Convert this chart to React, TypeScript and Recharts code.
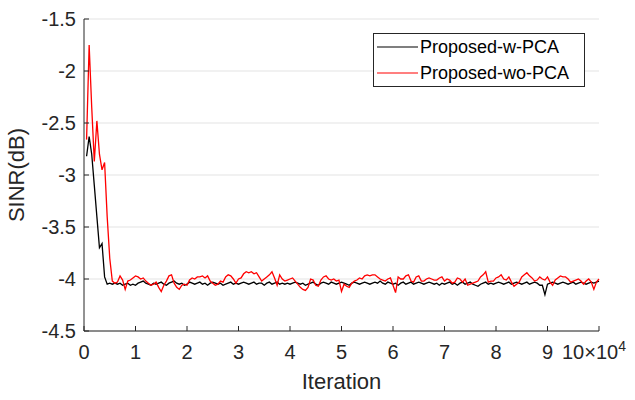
import React from 'react';
import { LineChart, Line, XAxis, YAxis, CartesianGrid, Legend } from 'recharts';

const iterations: number[] = Array.from({ length: 200 }, (_, i) => (i + 1) * 500);

const withPCA: number[] = [
  -2.82, -2.63, -2.8, -3.1, -3.4, -3.7, -3.66, -3.98, -4.05, -4.04,
  -4.05, -4.04, -4.05, -4.04, -4.06, -4.05, -4.04, -4.06, -4.05, -4.06,
  -4.04, -4.03, -4.02, -4.04, -4.05, -4.06, -4.04, -4.05, -4.04, -4.03,
  -4.05, -4.06, -4.04, -4.03, -4.02, -4.04, -4.05, -4.04, -4.06, -4.05,
  -4.03, -4.04, -4.05, -4.04, -4.03, -4.05, -4.04, -4.06, -4.04, -4.03,
  -4.04, -4.05, -4.04, -4.06, -4.05, -4.04, -4.03, -4.05, -4.04, -4.05,
  -4.04, -4.03, -4.04, -4.05, -4.04, -4.03, -4.05, -4.04, -4.04, -4.06,
  -4.04, -4.03, -4.05, -4.04, -4.03, -4.05, -4.04, -4.05, -4.04, -4.05,
  -4.04, -4.03, -4.04, -4.05, -4.04, -4.06, -4.05, -4.04, -4.03, -4.05,
  -4.06, -4.04, -4.03, -4.04, -4.05, -4.03, -4.04, -4.05, -4.04, -4.03,
  -4.04, -4.05, -4.06, -4.04, -4.03, -4.04, -4.05, -4.04, -4.03, -4.04,
  -4.05, -4.04, -4.03, -4.04, -4.02, -4.04, -4.05, -4.03, -4.04, -4.05,
  -4.04, -4.06, -4.04, -4.03, -4.05, -4.04, -4.03, -4.05, -4.04, -4.03,
  -4.04, -4.05, -4.04, -4.03, -4.04, -4.05, -4.04, -4.06, -4.04, -4.05,
  -4.04, -4.03, -4.05, -4.04, -4.06, -4.04, -4.03, -4.05, -4.04, -4.03,
  -4.05, -4.06, -4.07, -4.05, -4.04, -4.03, -4.05, -4.04, -4.05, -4.04,
  -4.03, -4.04, -4.05, -4.04, -4.03, -4.05, -4.04, -4.03, -4.04, -4.05,
  -4.04, -4.03, -4.05, -4.04, -4.03, -4.04, -4.06, -4.06, -4.15, -4.05,
  -4.04, -4.03, -4.04, -4.05, -4.04, -4.03, -4.04, -4.05, -4.04, -4.03,
  -4.05, -4.04, -4.03, -4.04, -4.05, -4.04, -4.03, -4.04, -4.03, -4.02,
];

const withoutPCA: number[] = [
  -2.66, -1.75, -2.35, -2.87, -2.48, -2.8, -2.95, -2.88, -3.4, -3.8,
  -4.02, -4.04, -4.03, -3.97, -4.01, -4.1, -4.02, -4.01, -3.99, -3.97,
  -3.98, -4.0, -3.99, -4.02, -4.04, -4.06, -4.05, -4.03, -4.08, -4.12,
  -4.06, -4.02, -3.97, -3.96, -4.04, -4.08, -4.1, -4.06, -4.05, -4.06,
  -4.01, -3.99, -4.0, -3.98, -3.98, -3.97, -3.99, -3.97, -4.02, -4.04,
  -4.06, -4.05, -4.02, -4.03, -3.98, -3.96, -3.97, -4.0, -4.04, -4.0,
  -3.99, -3.95, -3.93, -3.94, -3.93, -3.95, -3.94, -3.98, -4.02, -4.0,
  -3.98, -3.96, -3.93, -3.99, -4.06, -3.96, -4.0, -4.02, -4.01, -4.0,
  -3.99, -4.02, -4.05, -4.08, -4.1, -4.11, -4.08, -4.0, -4.01, -4.06,
  -4.07, -4.01, -3.98, -3.97, -4.0, -4.01, -4.0, -4.02, -4.01, -4.12,
  -4.05, -4.07, -4.08, -4.04, -4.02, -4.01, -3.99, -4.0, -3.97, -3.96,
  -3.97, -3.96, -3.96, -3.98, -4.0, -4.01, -4.02, -4.0, -3.99, -4.06,
  -4.13, -3.98, -4.0, -4.0, -3.97, -3.96, -4.02, -4.03, -3.98, -3.97,
  -4.02, -4.02, -4.0, -3.99, -4.0, -4.01, -4.01, -3.99, -3.98, -4.02,
  -4.0, -4.01, -4.04, -4.03, -3.99, -4.0, -4.03, -4.0, -4.06, -4.05,
  -4.04, -4.03, -4.02, -3.98, -3.96, -3.93, -4.03, -4.02, -4.02, -3.99,
  -3.98, -3.96, -4.0, -4.01, -3.98, -4.03, -4.07, -4.05, -4.03, -3.98,
  -3.96, -3.94, -3.97, -3.99, -4.02, -4.01, -3.98, -4.0, -4.01, -3.98,
  -4.03, -4.06, -4.01, -3.99, -3.97, -3.98, -3.98, -4.0, -4.03, -4.02,
  -4.01, -4.0, -4.02, -4.05, -4.02, -4.0, -4.03, -4.1, -4.03, -4.0,
];

const xTicks: number[] = [0, 10000, 20000, 30000, 40000, 50000, 60000, 70000, 80000, 90000, 100000];
const yTicks: number[] = [-4.5, -4, -3.5, -3, -2.5, -2, -1.5];
const seriesNames: string[] = ['Proposed-w-PCA', 'Proposed-wo-PCA'];
const seriesColors: string[] = ['#000000', '#ff0000'];

const data = iterations.map((it, i) => ({ it, w: withPCA[i], wo: withoutPCA[i] }));

const AXIS = '#262626';
const FONT = '"Liberation Sans", Arial, Helvetica, sans-serif';
const TICK_FS = 20;
const TICK_LEN = 5;

const BottomTick = (props: any) => {
  const { x, y, payload } = props;
  const v = payload.value as number;
  const axisY = y - 14;
  const line = <line x1={x} x2={x} y1={axisY} y2={axisY - TICK_LEN} stroke={AXIS} strokeWidth={1} />;
  if (v === 100000) {
    return (
      <g>
        {line}
        <text x={x - 37} y={y} dy="0.71em" textAnchor="start" fill={AXIS} fontSize={TICK_FS} fontFamily={FONT}>
          10×10<tspan dy={-8} fontSize={14}>4</tspan>
        </text>
      </g>
    );
  }
  return (
    <g>
      {line}
      <text x={x} y={y} dy="0.71em" textAnchor="middle" fill={AXIS} fontSize={TICK_FS} fontFamily={FONT}>
        {String(v / 10000)}
      </text>
    </g>
  );
};

const LeftTick = (props: any) => {
  const { x, y, payload } = props;
  const axisX = x + 8;
  return (
    <g>
      <line x1={axisX} x2={axisX + TICK_LEN} y1={y} y2={y} stroke={AXIS} strokeWidth={1} />
      <text x={x} y={y} dy="0.36em" textAnchor="end" fill={AXIS} fontSize={TICK_FS} fontFamily={FONT}>
        {String(payload.value)}
      </text>
    </g>
  );
};

const TopTick = (props: any) => {
  const { x, y } = props;
  return <line x1={x} x2={x} y1={y} y2={y + TICK_LEN} stroke={AXIS} strokeWidth={1} />;
};

const RightTick = (props: any) => {
  const { x, y } = props;
  return <line x1={x} x2={x - TICK_LEN} y1={y} y2={y} stroke={AXIS} strokeWidth={1} />;
};

const LegendBox = () => (
  <div
    style={{
      border: `1px solid ${AXIS}`,
      background: '#fff',
      width: 210,
      boxSizing: 'content-box',
      fontFamily: FONT,
      fontSize: 18,
      color: '#000',
    }}
  >
    {seriesNames.map((n, i) => (
      <div key={n} style={{ display: 'flex', alignItems: 'center', height: 26 }}>
        <svg width={46} height={26} style={{ display: 'block' }}>
          <line x1={3} x2={44} y1={13} y2={13} stroke={seriesColors[i]} strokeWidth={1.2} />
        </svg>
        <span style={{ whiteSpace: 'nowrap' }}>{n}</span>
      </div>
    ))}
  </div>
);

export default function App() {
  return (
    <div style={{ position: 'absolute', left: 0, top: 0, width: 635, height: 400, background: '#fff' }}>
      <LineChart width={635} height={400} data={data} margin={{ top: 19, right: 36, bottom: 0, left: 0 }}>
        <CartesianGrid vertical={false} stroke="#e3e3e3" strokeWidth={1} />
        <XAxis
          dataKey="it"
          type="number"
          domain={[0, 100000]}
          ticks={xTicks}
          interval={0}
          height={69}
          tickSize={0}
          tickMargin={14}
          tickLine={false}
          axisLine={{ stroke: AXIS, strokeWidth: 1 }}
          tick={<BottomTick />}
          label={{ value: 'Iteration', position: 'insideBottom', offset: 11, fontSize: 22, fill: AXIS, fontFamily: FONT }}
        />
        <XAxis
          xAxisId="t"
          orientation="top"
          dataKey="it"
          type="number"
          domain={[0, 100000]}
          ticks={xTicks}
          interval={0}
          height={0}
          tickSize={0}
          tickMargin={0}
          tickLine={false}
          axisLine={{ stroke: AXIS, strokeWidth: 1 }}
          tick={<TopTick />}
        />
        <YAxis
          type="number"
          domain={[-4.5, -1.5]}
          ticks={yTicks}
          interval={0}
          width={84}
          tickSize={0}
          tickMargin={8}
          tickLine={false}
          axisLine={{ stroke: AXIS, strokeWidth: 1 }}
          tick={<LeftTick />}
          label={{ value: 'SINR(dB)', angle: -90, position: 'insideLeft', offset: 16, fontSize: 22, fill: AXIS, fontFamily: FONT, style: { textAnchor: 'middle' } }}
        />
        <YAxis
          yAxisId="r"
          orientation="right"
          type="number"
          domain={[-4.5, -1.5]}
          ticks={yTicks}
          interval={0}
          width={0}
          tickSize={0}
          tickMargin={0}
          tickLine={false}
          axisLine={{ stroke: AXIS, strokeWidth: 1 }}
          tick={<RightTick />}
        />
        <Legend
          layout="vertical"
          verticalAlign="middle"
          align="center"
          wrapperStyle={{ left: 373, top: 33, width: 'auto' }}
          content={<LegendBox />}
        />
        <Line type="linear" dataKey="w" name={seriesNames[0]} stroke={seriesColors[0]} strokeWidth={1.3} dot={false} activeDot={false} isAnimationActive={false} />
        <Line type="linear" dataKey="wo" name={seriesNames[1]} stroke={seriesColors[1]} strokeWidth={1.3} dot={false} activeDot={false} isAnimationActive={false} />
      </LineChart>
    </div>
  );
}
